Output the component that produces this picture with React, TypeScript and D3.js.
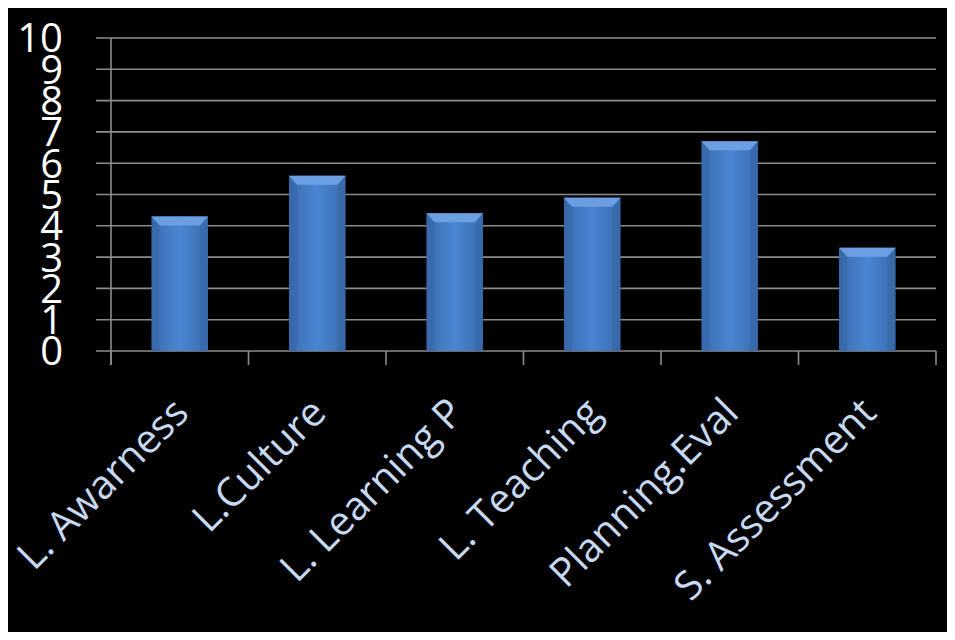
import React from "react";
import * as d3 from "d3";

const categories = ["L. Awarness", "L.Culture", "L. Learning P", "L. Teaching", "Planning.Eval", "S. Assessment"];
const values = [4.3, 5.6, 4.4, 4.9, 6.7, 3.3];
const yTicks = [0, 1, 2, 3, 4, 5, 6, 7, 8, 9, 10];

const W = 947;
const H = 624;
const left = 103;
const right = 928;
const top = 30;
const bottom = 343;

export default function App() {
  const x = d3.scaleBand<string>().domain(categories).range([left, right]).paddingInner(0.59).paddingOuter(0.295);
  const y = d3.scaleLinear().domain([0, 10]).range([bottom, top]);
  const step = x.step();
  const bw = x.bandwidth();
  const bev = 8;
  const boundaries = d3.range(categories.length + 1).map((i) => left + i * step);

  return (
    <svg width={W} height={H} style={{ display: "block", background: "#000" }}>
      <defs>
        <linearGradient id="barGrad" x1="0" x2="1" y1="0" y2="0">
          <stop offset="0" stopColor="#3a6cae" />
          <stop offset="0.5" stopColor="#4a86d2" />
          <stop offset="1" stopColor="#3a6cae" />
        </linearGradient>
      </defs>
      <rect x={0} y={0} width={W} height={H} fill="#000" />
      {yTicks.map((t) => (
        <line key={"g" + t} x1={left - 15} x2={right} y1={y(t)} y2={y(t)} stroke="#8c8c8c" strokeWidth={1.6} />
      ))}
      <line x1={left} x2={left} y1={top} y2={bottom + 14} stroke="#8c8c8c" strokeWidth={1.6} />
      {boundaries.map((b, i) => (
        <line key={"t" + i} x1={b} x2={b} y1={bottom} y2={bottom + 14} stroke="#8c8c8c" strokeWidth={1.6} />
      ))}
      {categories.map((c, i) => {
        const x0 = x(c)!;
        const x1 = x0 + bw;
        const y0 = y(values[i]);
        const y1 = y(0);
        return (
          <g key={c}>
            <rect x={x0} y={y0} width={bw} height={y1 - y0} fill="url(#barGrad)" />
            <polygon points={`${x0},${y0} ${x0 + bev},${y0 + bev} ${x0 + bev},${y1} ${x0},${y1}`} fill="#3766a6" opacity={0.6} />
            <polygon points={`${x1},${y0} ${x1 - bev},${y0 + bev} ${x1 - bev},${y1} ${x1},${y1}`} fill="#3766a6" opacity={0.6} />
            <polygon points={`${x0},${y0} ${x1},${y0} ${x1 - bev},${y0 + bev + 1} ${x0 + bev},${y0 + bev + 1}`} fill="#6b9fe2" />
          </g>
        );
      })}
      {yTicks.map((t) => (
        <text key={"l" + t} x={55} y={y(t)} dy="0.36em" textAnchor="end" fill="#fff" fontFamily="'Open Sans', sans-serif" fontSize={40}>
          {t}
        </text>
      ))}
      {categories.map((c) => {
        const cx = x(c)! + bw / 2 + 11;
        const cy = bottom + 64;
        return (
          <text key={"x" + c} x={cx} y={cy} textAnchor="end" transform={`rotate(-45 ${cx} ${cy})`} fill="#c6d9f1" fontFamily="'Open Sans', sans-serif" fontSize={40}>
            {c}
          </text>
        );
      })}
    </svg>
  );
}
